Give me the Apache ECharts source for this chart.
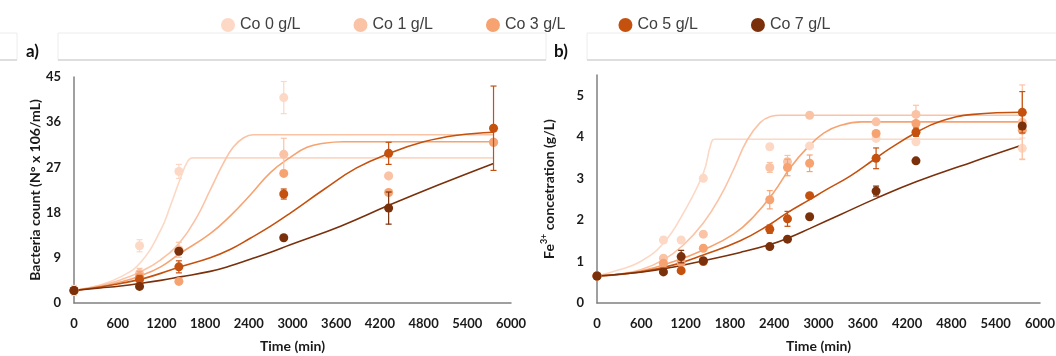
<!DOCTYPE html>
<html>
<head>
<meta charset="utf-8">
<script src="https://cdn.jsdelivr.net/npm/echarts@6/dist/echarts.min.js"></script>
<style>
  html, body { margin: 0; padding: 0; background: #fff; }
  #chart { width: 1056px; height: 356px; }
</style>
</head>
<body>
<div id="chart"></div>
<script>
// legend / series names and colours
const names = ["Co 0 g/L", "Co 1 g/L", "Co 3 g/L", "Co 5 g/L", "Co 7 g/L"];
const colors = ["#fcd8c5", "#fbc3a5", "#f6a371", "#c5510f", "#7a300b"];

// a) bacteria count, measured points
const timesA = [0, 900, 1440, 2880, 4320, 5760];
const countA = [
  [2.5, 11.4, 26.2, 40.9, 25.3, 32.0],
  [2.5, 5.9, 10.6, 29.6, 25.3, 32.0],
  [2.5, 5.3, 4.3, 25.8, 22.0, 32.0],
  [2.5, 4.7, 7.2, 21.7, 29.8, 34.8],
  [2.5, 3.3, 10.3, 13.0, 18.9, null]
];
const errA = [
  [1.0, 1.2, 1.4, 3.2, 0, 0],
  [0, 1.0, 1.5, 3.2, 0, 0],
  [0, 1.0, 0.5, 0, 0, 0],
  [0, 0.8, 1.2, 1.0, 2.2, 8.4],
  [0, 0, 0, 0, 3.2, 0]
];
// a) fitted curves [time, count]
const fitA0 = [[0, 2.5], [360, 3.6], [640, 5.2], [910, 8.0], [1190, 14.5], [1320, 19.2], [1460, 24.8], [1560, 28.2], [1630, 28.9], [5760, 28.9]];
const fitA1 = [[0, 2.5], [360, 3.5], [640, 4.6], [910, 6.2], [1190, 8.6], [1460, 12.2], [1690, 17.2], [1870, 22.5], [2050, 27.8], [2190, 31.1], [2330, 32.9], [2460, 33.5], [5760, 33.5]];
const fitA3 = [[0, 2.5], [360, 3.3], [640, 4.2], [910, 5.4], [1190, 7.2], [1460, 9.9], [1870, 13.8], [2150, 17.4], [2420, 21.5], [2700, 26.0], [2970, 29.0], [3200, 31.0], [3430, 31.8], [3700, 32.1], [5760, 32.1]];
const fitA5 = [[0, 2.5], [360, 3.2], [640, 3.9], [910, 4.7], [1190, 5.9], [1460, 7.2], [1870, 9.0], [2150, 10.7], [2420, 12.9], [2700, 15.3], [2970, 17.9], [3430, 22.6], [3880, 26.9], [4330, 29.8], [4800, 32.1], [5260, 33.4], [5760, 34.0]];
const fitA7 = [[0, 2.5], [360, 3.0], [640, 3.4], [910, 3.9], [1190, 4.5], [1460, 5.2], [1870, 6.3], [2150, 7.4], [2420, 8.7], [2700, 10.1], [2970, 11.6], [3660, 15.3], [4330, 19.5], [5000, 23.5], [5760, 27.8]];

// b) Fe3+ concentration, measured points
const timesB = [0, 900, 1140, 1440, 2340, 2580, 2880, 3780, 4320, 5760];
const ironB = [
  [0.65, 1.52, 1.52, 3.01, 3.77, null, 3.79, 3.97, 3.89, 3.73],
  [0.65, 1.08, null, 1.66, 3.27, 3.41, 4.53, 4.37, 4.55, 4.36],
  [0.65, 0.96, 0.97, 1.32, 2.49, 3.27, 3.37, 4.09, 4.33, 4.17],
  [0.65, null, 0.78, 1.0, 1.78, 2.03, 2.59, 3.49, 4.12, 4.6],
  [0.65, 0.75, 1.12, 1.02, 1.36, 1.54, 2.08, 2.70, 3.43, 4.27]
];
const errB = [
  [0, 0, 0, 0, 0, 0, 0, 0, 0, 0.25],
  [0, 0, 0, 0, 0.12, 0.15, 0, 0, 0.22, 0.9],
  [0, 0, 0, 0, 0.22, 0.2, 0.2, 0, 0, 0],
  [0, 0, 0, 0, 0.1, 0.18, 0, 0.25, 0.1, 0.5],
  [0, 0, 0.15, 0, 0, 0, 0, 0.12, 0, 0]
];
// b) fitted curves [time, g/L]
const fitB0 = [[0, 0.65], [300, 0.8], [590, 1.0], [900, 1.44], [1170, 2.17], [1440, 3.13], [1540, 3.82], [1590, 3.95], [5760, 3.95]];
const fitB1 = [[0, 0.65], [300, 0.7], [590, 0.8], [900, 1.04], [1170, 1.4], [1440, 1.93], [1670, 2.57], [1850, 3.22], [2030, 3.92], [2210, 4.35], [2350, 4.5], [2490, 4.53], [5760, 4.53]];
const fitB3 = [[0, 0.65], [590, 0.77], [1040, 1.0], [1440, 1.28], [1850, 1.66], [2120, 2.08], [2390, 2.66], [2620, 3.27], [2840, 3.73], [3070, 4.1], [3290, 4.28], [3580, 4.37], [5760, 4.37]];
const fitB5 = [[0, 0.65], [590, 0.75], [1040, 0.92], [1440, 1.16], [1940, 1.5], [2345, 1.9], [2580, 2.18], [2886, 2.5], [3112, 2.74], [3428, 3.06], [3743, 3.45], [3969, 3.73], [4330, 4.12], [4645, 4.38], [5096, 4.55], [5760, 4.6]];
const fitB7 = [[0, 0.65], [590, 0.74], [1040, 0.87], [1440, 1.02], [1940, 1.22], [2345, 1.41], [2580, 1.56], [2886, 1.8], [3293, 2.13], [3789, 2.53], [4330, 2.93], [5096, 3.41], [5760, 3.81]];

const fitsA = [fitA0, fitA1, fitA3, fitA5, fitA7];
const fitsB = [fitB0, fitB1, fitB3, fitB5, fitB7];

const chart = echarts.init(document.getElementById("chart"), null, { renderer: "canvas" });

const labelFont = { fontFamily: "Lato", fontWeight: "bold", fontSize: 13, color: "#1a1a1a" };
const nameFont = { fontFamily: "Lato", fontWeight: "bold", fontSize: 14, color: "#1a1a1a" };
const axisLine = { show: true, lineStyle: { color: "#808080", width: 1.5 } };

function xAxis(idx) {
  return {
    type: "value", gridIndex: idx, min: 0, max: 6000, interval: 600,
    name: "Time (min)", nameLocation: "middle", nameGap: 36, nameTextStyle: nameFont,
    axisLine, axisTick: { show: false }, splitLine: { show: false },
    axisLabel: Object.assign({ margin: 14, formatter: v => String(v) }, labelFont)
  };
}

function errRender(params, api) {
  const x = api.value(0), y = api.value(1), e = api.value(2);
  const top = api.coord([x, y + e]);
  const bot = api.coord([x, y - e]);
  const style = { stroke: api.visual("color"), lineWidth: 1.2 };
  const hw = 3;
  return {
    type: "group",
    children: [
      { type: "line", shape: { x1: top[0], y1: top[1], x2: bot[0], y2: bot[1] }, style },
      { type: "line", shape: { x1: top[0] - hw, y1: top[1], x2: top[0] + hw, y2: top[1] }, style },
      { type: "line", shape: { x1: bot[0] - hw, y1: bot[1], x2: bot[0] + hw, y2: bot[1] }, style }
    ]
  };
}

function panelSeries(idx, times, vals, errs, fits) {
  const out = [];
  names.forEach((n, i) => {
    out.push({
      name: n, type: "line", xAxisIndex: idx, yAxisIndex: idx,
      data: fits[i], smooth: 0.45, showSymbol: false,
      lineStyle: { color: colors[i], width: 1.6 }, itemStyle: { color: colors[i] },
      silent: true, z: 2
    });
    const errData = [];
    times.forEach((t, k) => {
      if (vals[i][k] != null && errs[i][k] > 0) errData.push([t, vals[i][k], errs[i][k]]);
    });
    out.push({
      name: n, type: "custom", xAxisIndex: idx, yAxisIndex: idx,
      renderItem: errRender, data: errData, itemStyle: { color: colors[i] },
      encode: { x: 0, y: 1 }, silent: true, z: 3 + i
    });
    out.push({
      name: n, type: "scatter", xAxisIndex: idx, yAxisIndex: idx,
      data: times.map((t, k) => [t, vals[i][k]]).filter(d => d[1] != null),
      symbol: "circle", symbolSize: 9, itemStyle: { color: colors[i], opacity: 1 },
      silent: true, z: 3 + i
    });
  });
  return out;
}

const option = {
  backgroundColor: "#fff",
  animation: false,
  legend: {
    data: names, icon: "circle", left: 216, top: 12,
    itemWidth: 14, itemHeight: 14, itemGap: 53,
    textStyle: { fontFamily: "Liberation Sans", fontSize: 16, color: "#404040" }
  },
  graphic: [
    { type: "rect", shape: { x: -5, y: 33, width: 22, height: 27 }, style: { fill: "#fff", stroke: "#ececec" } },
    { type: "rect", shape: { x: 58, y: 33, width: 488, height: 27 }, style: { fill: "#fff", stroke: "#ececec" } },
    { type: "rect", shape: { x: 587, y: 33, width: 475, height: 27 }, style: { fill: "#fff", stroke: "#ececec" } },
    { type: "line", shape: { x1: 0, y1: 60, x2: 17, y2: 60 }, style: { stroke: "#d6d6d6", lineWidth: 1.5 } },
    { type: "line", shape: { x1: 58, y1: 60, x2: 546, y2: 60 }, style: { stroke: "#d6d6d6", lineWidth: 1.5 } },
    { type: "line", shape: { x1: 587, y1: 60, x2: 1056, y2: 60 }, style: { stroke: "#d6d6d6", lineWidth: 1.5 } },
    { type: "text", left: 26, top: 43, style: { text: "a)", fontFamily: "Lato", fontWeight: "bold", fontSize: 17, fill: "#111" } },
    { type: "text", left: 554, top: 43, style: { text: "b)", fontFamily: "Lato", fontWeight: "bold", fontSize: 17, fill: "#111" } }
  ],
  grid: [
    { left: 74, right: 545, top: 77, bottom: 53, outerBoundsMode: "none" },
    { left: 597, right: 16, top: 75, bottom: 53, outerBoundsMode: "none" }
  ],
  xAxis: [xAxis(0), xAxis(1)],
  yAxis: [
    {
      type: "value", gridIndex: 0, min: 0, max: 45, interval: 9,
      name: "Bacteria count (N° x 106/mL)", nameLocation: "middle", nameGap: 31, nameTextStyle: nameFont,
      axisLine, axisTick: { show: false }, splitLine: { show: false },
      axisLabel: Object.assign({ margin: 13 }, labelFont)
    },
    {
      type: "value", gridIndex: 1, min: 0, max: 5.5, interval: 1,
      name: "{n|Fe}{s|3+}{n| concetration (g/L)}", nameLocation: "middle", nameGap: 39,
      nameTextStyle: {
        rich: {
          n: { fontFamily: "Lato", fontWeight: "bold", fontSize: 14, color: "#1a1a1a", lineHeight: 18 },
          s: { fontFamily: "Lato", fontWeight: "bold", fontSize: 9, color: "#1a1a1a", verticalAlign: "top", lineHeight: 18 }
        }
      },
      axisLine, axisTick: { show: false }, splitLine: { show: false },
      axisLabel: Object.assign({ margin: 13, formatter: v => (v === 5.5 ? "" : String(v)) }, labelFont)
    }
  ],
  series: [].concat(
    panelSeries(0, timesA, countA, errA, fitsA),
    panelSeries(1, timesB, ironB, errB, fitsB)
  )
};

chart.setOption(option);
</script>
</body>
</html>
